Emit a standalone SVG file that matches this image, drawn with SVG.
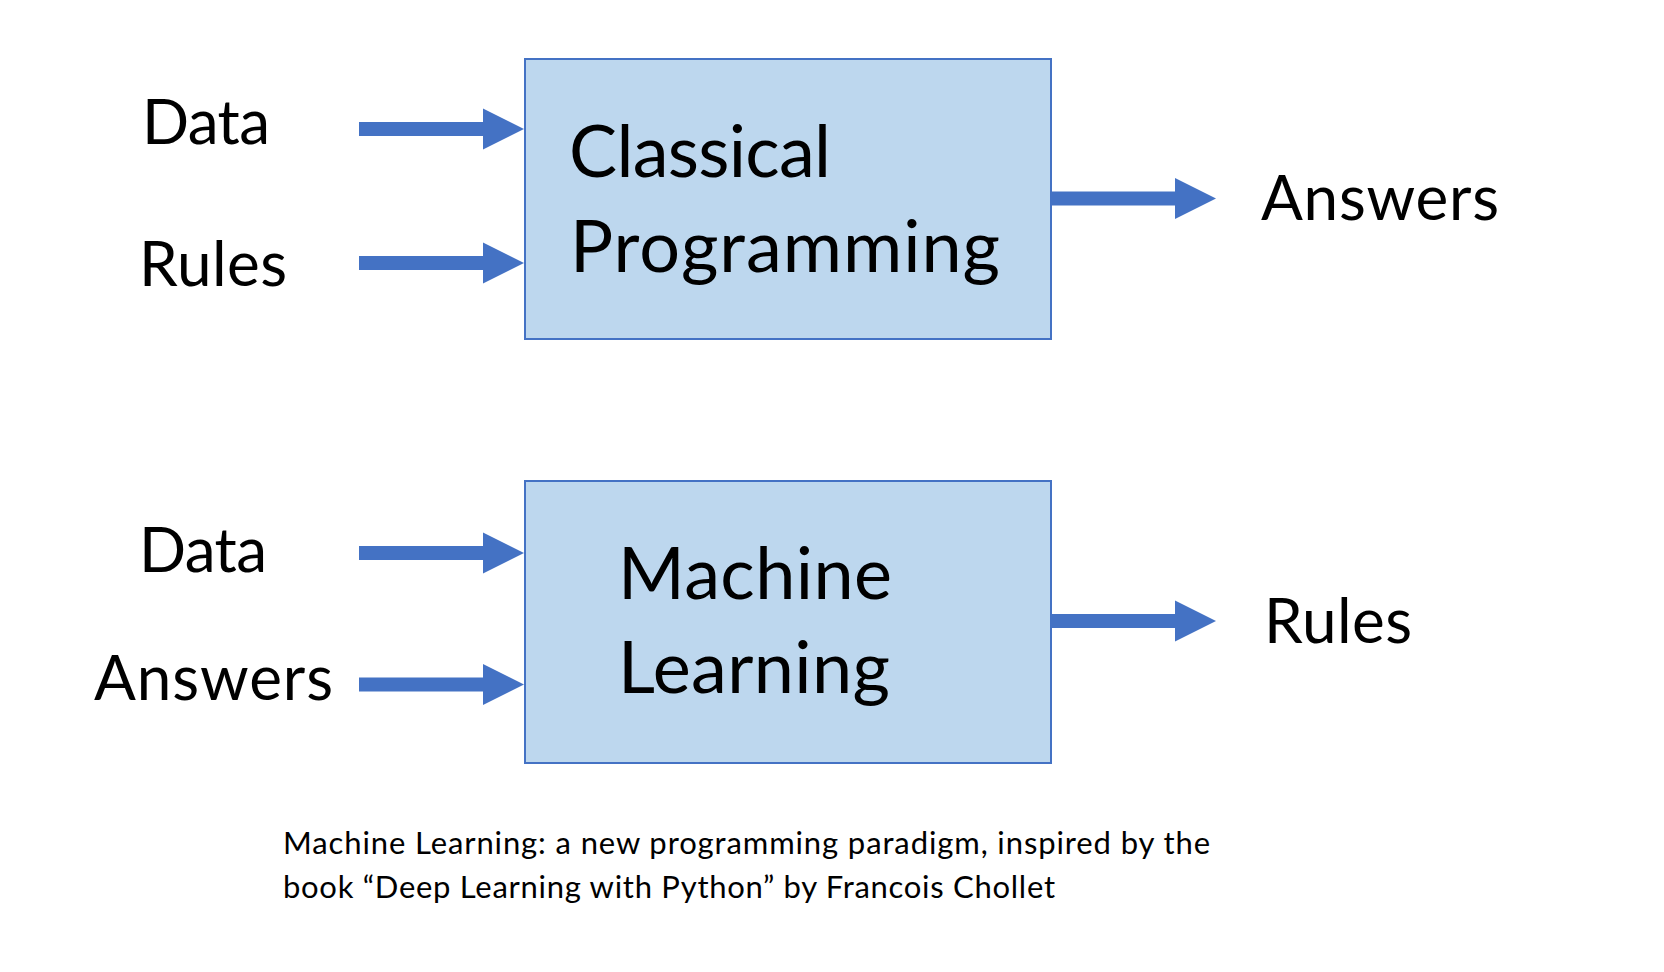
<svg xmlns="http://www.w3.org/2000/svg" width="1664" height="972" viewBox="0 0 1664 972">
<style>
.box{fill:#BDD7EE;stroke:#4472C4;stroke-width:2}
.arr{fill:#4472C4}
.lbl{font-family:Lato,"Liberation Sans",sans-serif;font-size:62px;fill:#000}
.big{font-family:Lato,"Liberation Sans",sans-serif;font-size:72px;fill:#000}
.cap{font-family:Lato,"Liberation Sans",sans-serif;font-size:31px;fill:#000}
</style>
<defs>
<polygon id="arrow" points="0,-7 124,-7 124,-20.5 165,0 124,20.5 124,7 0,7"/>
</defs>
<rect width="1664" height="972" fill="#fff"/>
<g id="connectors" class="arr">
<use href="#arrow" x="359" y="129"/>
<use href="#arrow" x="359" y="263"/>
<use href="#arrow" x="1051" y="198.5"/>
<use href="#arrow" x="359" y="553"/>
<use href="#arrow" x="359" y="684.5"/>
<use href="#arrow" x="1051" y="621"/>
</g>
<g id="classical">
<rect class="box" x="525" y="59" width="526" height="280"/>
<text class="big" x="569" y="177" textLength="262" lengthAdjust="spacing">Classical</text>
<text class="big" x="570" y="272" textLength="430" lengthAdjust="spacing">Programming</text>
</g>
<g id="ml">
<rect class="box" x="525" y="481" width="526" height="282"/>
<text class="big" x="618" y="599" textLength="274" lengthAdjust="spacing">Machine</text>
<text class="big" x="618" y="693" textLength="272" lengthAdjust="spacing">Learning</text>
</g>
<g id="data1"><text class="lbl" x="142" y="144" textLength="128" lengthAdjust="spacing">Data</text></g>
<g id="rules1"><text class="lbl" x="139" y="286" textLength="148" lengthAdjust="spacing">Rules</text></g>
<g id="answers1"><text class="lbl" x="1261" y="220" textLength="238" lengthAdjust="spacing">Answers</text></g>
<g id="data2"><text class="lbl" x="139" y="572" textLength="128" lengthAdjust="spacing">Data</text></g>
<g id="answers2"><text class="lbl" x="94" y="700" textLength="239" lengthAdjust="spacing">Answers</text></g>
<g id="rules2"><text class="lbl" x="1264" y="643" textLength="148" lengthAdjust="spacing">Rules</text></g>
<g id="caption">
<text class="cap" x="283" y="854" textLength="927" lengthAdjust="spacing">Machine Learning: a new programming paradigm, inspired by the</text>
<text class="cap" x="283" y="898" textLength="772" lengthAdjust="spacing">book “Deep Learning with Python” by Francois Chollet</text>
</g>
</svg>
